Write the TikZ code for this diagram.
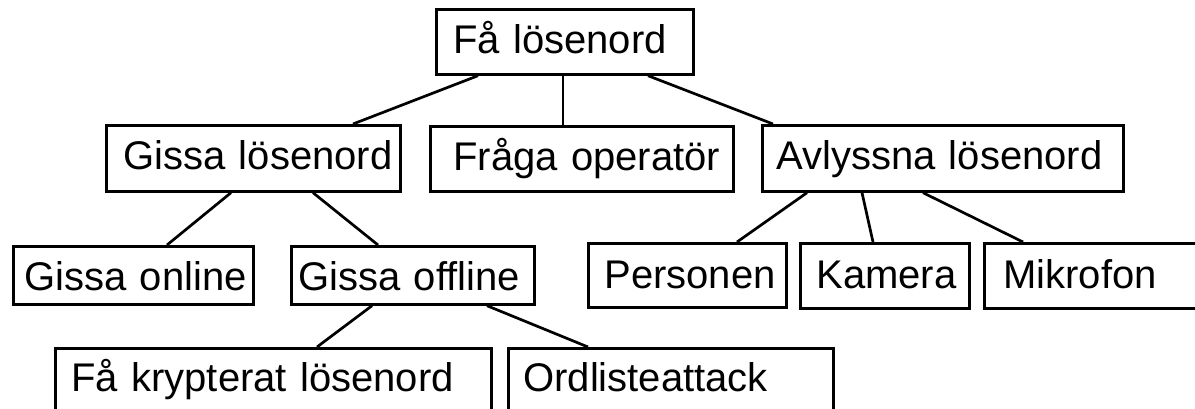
\documentclass[tikz,border=0pt]{standalone}
\usepackage{fontspec}
\setmainfont{Liberation Sans}
\begin{document}
\begin{tikzpicture}[x=1pt,y=-1pt,
  bx/.style={draw, line width=2.7pt, inner ysep=0pt, anchor=north west, align=left,
    font=\fontsize{40}{48}\selectfont},
  conn/.style={line width=2.7pt}]
\useasboundingbox (0,0) rectangle (1195,409);
\clip (0,0) rectangle (1195,409);
% level 0
\node[bx, inner xsep=17pt, text width=223pt, text height=44pt, text depth=21pt] (top) at (435,8) {\rlap{Få lösenord}};
% level 1
\node[bx, inner xsep=17pt, text width=260pt, text height=44pt, text depth=22pt] (gl) at (105,124) {\rlap{Gissa lösenord}};
\node[bx, inner xsep=23pt, text width=257pt, text height=44pt, text depth=21pt] (fo) at (429,125) {\rlap{Fråga operatör}};
\node[bx, inner xsep=14pt, text width=333pt, text height=44pt, text depth=22pt] (al) at (761,124) {\rlap{Avlyssna lösenord}};
% level 2
\node[bx, inner xsep=11pt, text width=218pt, text height=44pt, text depth=14pt] (gon) at (12,245) {\rlap{Gissa online}};
\node[bx, inner xsep=7pt, text width=229pt, text height=44pt, text depth=14pt] (goff) at (290,245) {\rlap{Gissa offline}};
\node[bx, inner xsep=16pt, text width=166pt, text height=45pt, text depth=19pt] (pers) at (587,242) {\rlap{Personen}};
\node[bx, inner xsep=16pt, text width=137pt, text height=45pt, text depth=20pt] (kam) at (799,242) {\rlap{Kamera}};
\node[bx, inner xsep=19pt, text width=184pt, text height=45pt, text depth=20pt] (mik) at (983,242) {\rlap{Mikrofon}};
% level 3
\node[bx, inner xsep=16pt, text width=404pt, text height=43pt, text depth=40pt] (fk) at (54,347) {\rlap{Få krypterat lösenord}};
\node[bx, inner xsep=15pt, text width=295pt, text height=43pt, text depth=40pt] (ord) at (507,347) {\rlap{Ordlisteattack}};
% connectors
\draw[conn] ([xshift=43pt]top.south west) -- ([xshift=248pt]gl.north west);
\draw[conn] ([xshift=128pt]top.south west) -- ([xshift=134pt]fo.north west);
\draw[conn] ([xshift=213pt]top.south west) -- ([xshift=12pt]al.north west);
\draw[conn] ([xshift=126pt]gl.south west) -- ([xshift=155pt]gon.north west);
\draw[conn] ([xshift=208pt]gl.south west) -- ([xshift=88pt]goff.north west);
\draw[conn] ([xshift=46pt]al.south west) -- ([xshift=150pt]pers.north west);
\draw[conn] ([xshift=101pt]al.south west) -- ([xshift=74pt]kam.north west);
\draw[conn] ([xshift=162pt]al.south west) -- ([xshift=40pt]mik.north west);
\draw[conn] ([xshift=82pt]goff.south west) -- ([xshift=263pt]fk.north west);
\draw[conn] ([xshift=197pt]goff.south west) -- ([xshift=81pt]ord.north west);
\end{tikzpicture}
\end{document}
